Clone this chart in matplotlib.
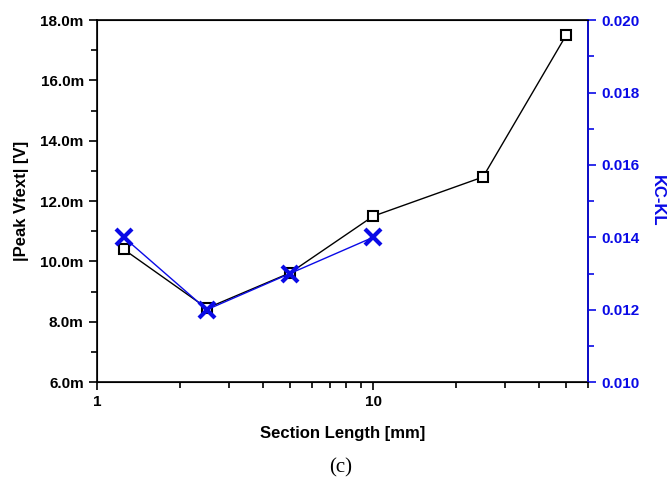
import matplotlib.pyplot as plt
from matplotlib.ticker import FuncFormatter, MultipleLocator, LogLocator, NullFormatter

plt.rcParams['font.family'] = ['Liberation Sans', 'DejaVu Sans']
plt.rcParams['font.weight'] = 'bold'

# data
section_len = [1.25, 2.5, 5, 10, 25, 50]
peak_vfext = [10.4e-3, 8.45e-3, 9.62e-3, 11.5e-3, 12.8e-3, 17.5e-3]

kc_len = [1.25, 2.5, 5, 10]
kc_kl = [0.014, 0.012, 0.013, 0.014]

blue = '#0a0ae6'

fig = plt.figure(figsize=(6.71, 4.8), dpi=100)
ax = fig.add_axes([0.1446, 0.204, 0.7317, 0.754])

ax.plot(section_len, peak_vfext, color='black', lw=1.0, marker='s', ms=7.5,
        mfc='white', mec='black', mew=1.5, zorder=3)
ax.set_xscale('log')
ax.set_xlim(1, 60)
ax.set_ylim(6e-3, 18e-3)
ax.yaxis.set_major_locator(MultipleLocator(2e-3))
ax.yaxis.set_minor_locator(MultipleLocator(1e-3))
ax.yaxis.set_major_formatter(FuncFormatter(lambda v, p: f"{v*1e3:.1f}m"))
ax.xaxis.set_major_locator(LogLocator(base=10))
ax.xaxis.set_minor_locator(LogLocator(base=10, subs=range(2, 10)))
ax.xaxis.set_minor_formatter(NullFormatter())
ax.xaxis.set_major_formatter(FuncFormatter(lambda v, p: f"{v:g}"))
ax.tick_params(which='both', direction='out', labelsize=11, width=1.2)
ax.tick_params(which='major', length=6)
ax.tick_params(which='minor', length=4)
ax.set_xlabel('Section Length [mm]', fontsize=12, fontweight='bold', labelpad=12)
ax.set_ylabel('|Peak Vfext| [V]', fontsize=12, fontweight='bold', labelpad=8)
for s in ax.spines.values():
    s.set_linewidth(1.2)

ax2 = ax.twinx()
ax2.plot(kc_len, kc_kl, color=blue, lw=1.0, marker='x', ms=11, mew=3, zorder=4)
ax2.set_ylim(0.010, 0.020)
ax2.yaxis.set_major_locator(MultipleLocator(0.002))
ax2.yaxis.set_minor_locator(MultipleLocator(0.001))
ax2.yaxis.set_major_formatter(FuncFormatter(lambda v, p: f"{v:.3f}"))
ax2.tick_params(which='both', direction='out', labelsize=11, width=1.2,
                colors=blue)
ax2.tick_params(which='major', length=6)
ax2.tick_params(which='minor', length=4)
ax2.spines['right'].set_color(blue)
ax2.spines['right'].set_linewidth(1.2)
ax2.set_ylabel('KC-KL', fontsize=12, fontweight='bold', color=blue,
               rotation=270, labelpad=18)

fig.text(0.507, 0.025, '(c)', fontsize=15, ha='center', va='center',
         family=['Liberation Serif', 'DejaVu Serif'], fontweight='normal')

fig.savefig('out.png', dpi=100)
